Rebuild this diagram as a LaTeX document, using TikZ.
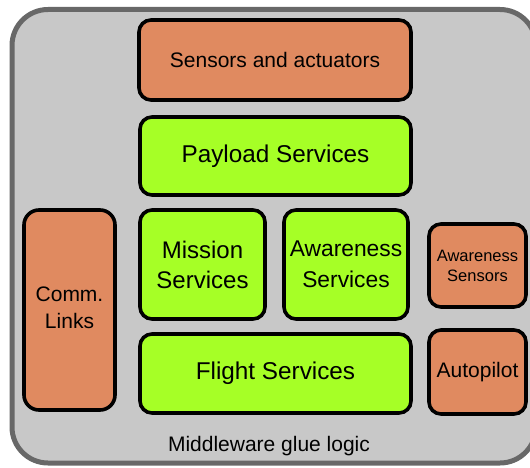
\documentclass[tikz,border=0pt]{standalone}
\usepackage{fontspec}
\setmainfont{Liberation Sans}
\definecolor{boxorange}{RGB}{224,138,96}
\definecolor{boxgreen}{RGB}{166,255,38}
\definecolor{panelgray}{RGB}{200,200,200}
\definecolor{panelborder}{RGB}{104,104,104}
\begin{document}
\begin{tikzpicture}[x=1pt,y=-1pt,
  blk/.style={draw=black,line width=3.6pt,rounded corners=12pt,align=center,inner sep=0pt,text=black},
  orangeblk/.style={blk,fill=boxorange},
  greenblk/.style={blk,fill=boxgreen},
  font=\fontsize{24}{30}\selectfont]
\useasboundingbox (0,0) rectangle (530,468);
\draw[fill=panelgray,draw=panelborder,line width=5pt,rounded corners=36pt] (12,9.5) rectangle (536,463);
\node[orangeblk,minimum width=272pt,minimum height=80pt,font=\fontsize{21}{26}\selectfont] (sensors) at (275,60) {Sensors and actuators};
\node[greenblk,minimum width=271pt,minimum height=78pt,font=\fontsize{24.3}{30}\selectfont] (payload) at (275.5,156) {Payload Services};
\node[orangeblk,minimum width=91pt,minimum height=200pt,rounded corners=15pt,font=\fontsize{21}{27}\selectfont] (comm) at (69.5,310) {\raisebox{3pt}{\begin{tabular}{@{}c@{}}Comm.\\[0pt]Links\end{tabular}}};
\node[greenblk,minimum width=125pt,minimum height=109pt] (mission) at (202.5,264.5) {Mission\\Services};
\node[greenblk,minimum width=124pt,minimum height=109pt,font=\fontsize{22.8}{30.5}\selectfont] (awareness) at (346,264.5) {Awareness\\Services};
\node[greenblk,minimum width=271pt,minimum height=79pt,font=\fontsize{24.3}{30}\selectfont] (flight) at (275.5,373.5) {Flight Services};
\node[orangeblk,minimum width=97pt,minimum height=83pt,font=\fontsize{16.5}{20}\selectfont] (awsensors) at (477.5,265.5) {Awareness\\Sensors};
\node[orangeblk,minimum width=97pt,minimum height=84pt,font=\fontsize{21}{26}\selectfont] (autopilot) at (477.5,372) {Autopilot};
\node[anchor=base,inner sep=0pt,font=\fontsize{21}{26}\selectfont] (glue) at (269,451) {Middleware glue logic};
\end{tikzpicture}
\end{document}
